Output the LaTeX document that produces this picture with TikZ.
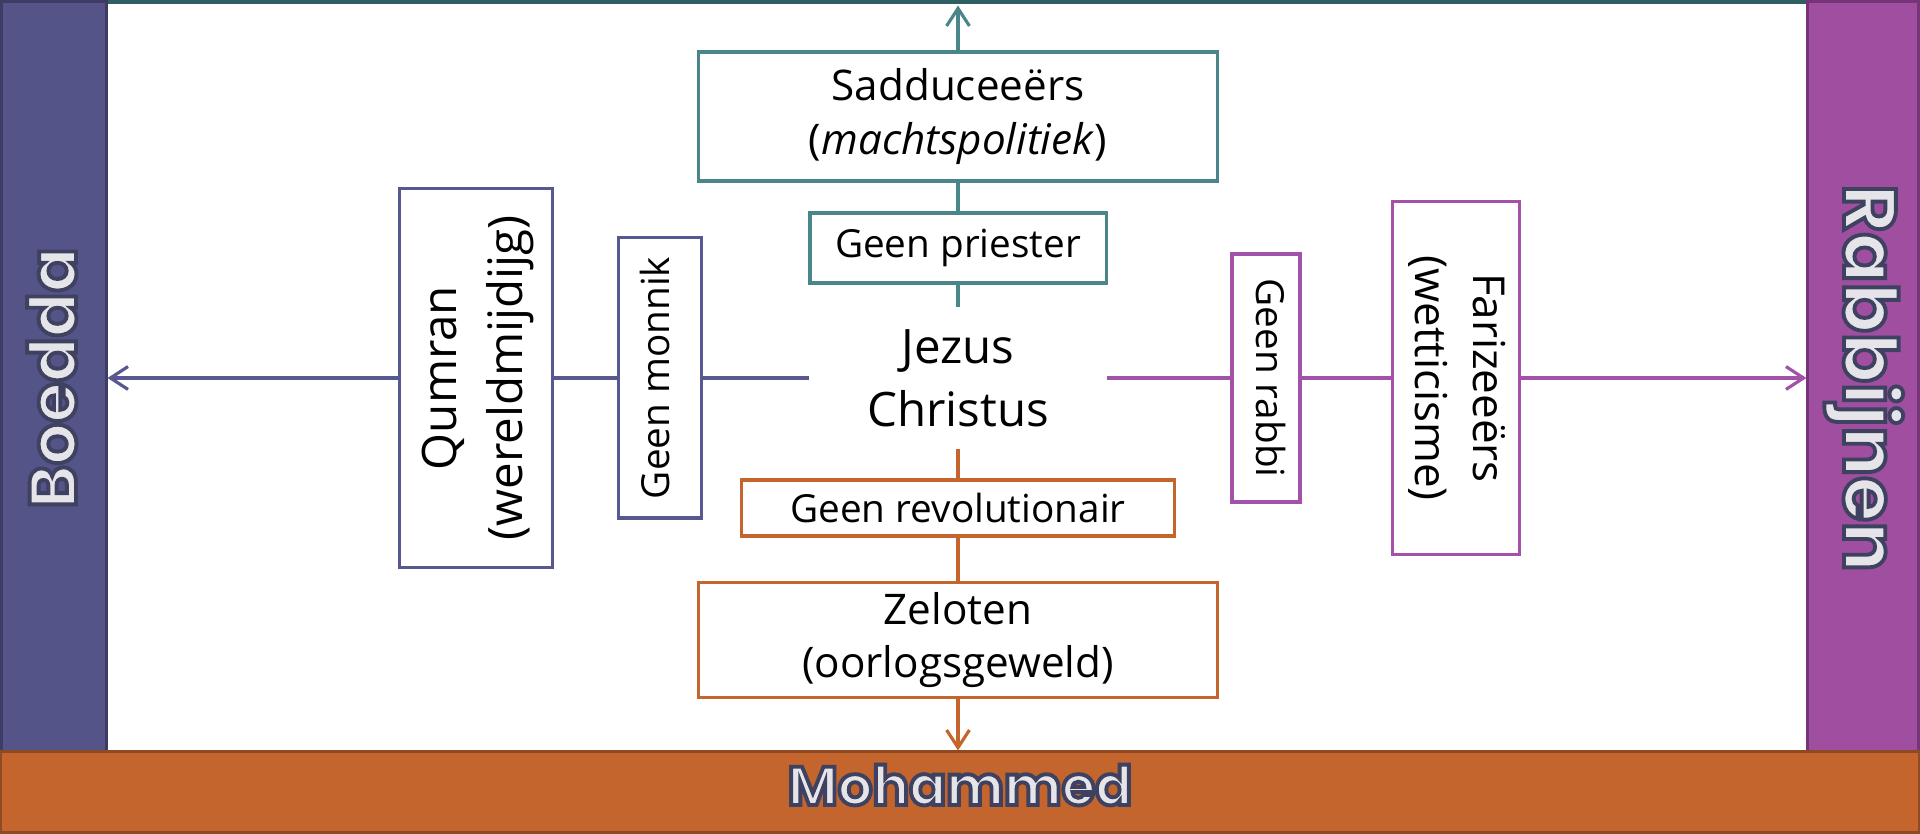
\documentclass[tikz,border=0pt]{standalone}
\usepackage{fontspec}
\usepackage{xcolor}
\usepackage{graphicx}
\usepackage{tikz}
\usetikzlibrary{arrows.meta}

\setmainfont{Open Sans}
\newfontfamily\barfont{Poppins}

\definecolor{tealline}{RGB}{74,133,137}
\definecolor{tealbar}{RGB}{47,94,99}
\definecolor{indigoline}{RGB}{88,88,145}
\definecolor{indigobar}{RGB}{84,84,136}
\definecolor{indigoedge}{RGB}{62,60,100}
\definecolor{plumline}{RGB}{162,82,168}
\definecolor{plumbar}{RGB}{160,79,160}
\definecolor{plumedge}{RGB}{117,53,120}
\definecolor{rustline}{RGB}{196,101,46}
\definecolor{rustedge}{RGB}{142,74,34}
\definecolor{bartext}{RGB}{229,229,233}

% outlined letters: fill in the text colour, stroke in a dark slate
\newcommand{\rimmed}[1]{\special{pdf:literal direct 2 Tr 1.1 w 0.243 0.259 0.376 RG}#1\special{pdf:literal direct 0 Tr}}

\newcommand{\turnup}[1]{\rotatebox{90}{\begin{tabular}{@{}c@{}}#1\end{tabular}}}
\newcommand{\turndown}[1]{\rotatebox{-90}{\begin{tabular}{@{}c@{}}#1\end{tabular}}}

\begin{document}
\begin{tikzpicture}[x=0.01cm, y=-0.01cm,
	sect/.style={draw, line width=0.9pt, fill=white, inner sep=0pt, align=center},
	bar/.style={line width=0.85pt, inner sep=0pt},
	bartxt/.style={text=bartext, font=\barfont},
	link/.style={line width=0.9pt},
	tip/.style={-{Straight Barb[length=5pt,width=6.5pt]}}]

\useasboundingbox (0,0) rectangle (1920,834);

% bars round the edge
\node[bar, fill=tealbar, minimum width=17.01cm, minimum height=0.14cm] (topbar) at (957.5,-3) {};
\node[bar, draw=indigoedge, fill=indigobar, minimum width=1.045cm, minimum height=7.495cm] (boedda) at (53.75,376.25) {};
\node[bar, draw=plumedge, fill=plumbar, minimum width=1.105cm, minimum height=7.495cm] (rabbijnen) at (1863.25,376.25) {};
\node[bar, draw=rustedge, fill=rustline, minimum width=19.17cm, minimum height=0.805cm] (mohammed) at (960,792.25) {};

\node[bartxt, anchor=base, rotate=90, font=\barfont\bfseries\fontsize{18.8}{20}\selectfont] (boeddatxt) at (76,378) {\rimmed{Boedda}};
\node[bartxt, anchor=base, rotate=-90, font=\barfont\bfseries\fontsize{21}{23}\selectfont] (rabbijnentxt) at (1844,378) {\rimmed{Rabbijnen}};
\node[bartxt, anchor=base, font=\barfont\bfseries\fontsize{15.5}{17}\selectfont] (mohammedtxt) at (960,805) {\rimmed{Mohammed}};

% middle
\node[inner sep=0pt, align=center, minimum width=2.96cm, minimum height=1.4cm,
	font=\fontsize{13.5}{17.9}\selectfont] (jezus) at (958,378) {Jezus\\Christus};

% up
\node[sect, draw=tealline, minimum width=2.96cm, minimum height=0.70cm, font=\fontsize{11}{13}\selectfont] (priester) at (958,248) {Geen priester};
\node[sect, draw=tealline, minimum width=5.18cm, minimum height=1.29cm, font=\fontsize{12}{15.1}\selectfont] (sadducee) at (958,116.5) {Sadduceeërs\\(\textit{machtspolitiek})};

% down
\node[sect, draw=rustline, minimum width=4.32cm, minimum height=0.56cm, font=\fontsize{11}{13}\selectfont] (revolutionair) at (958,508) {Geen revolutionair};
\node[sect, draw=rustline, minimum width=5.18cm, minimum height=1.15cm, font=\fontsize{12}{15.1}\selectfont] (zeloten) at (958,640) {Zeloten\\(oorlogsgeweld)};

% left
\node[sect, draw=indigoline, minimum width=0.83cm, minimum height=2.80cm, font=\fontsize{11}{13}\selectfont] (monnik) at (660,378) {\turnup{Geen monnik}};
\node[sect, draw=indigoline, minimum width=1.53cm, minimum height=3.79cm, font=\fontsize{13.5}{18.8}\selectfont] (qumran) at (476,378) {\turnup{Qumran\\(wereldmijdijg)}};

% right
\node[sect, draw=plumline, minimum width=0.68cm, minimum height=2.48cm, font=\fontsize{11}{13}\selectfont] (rabbi) at (1266,378) {\turndown{Geen rabbi}};
\node[sect, draw=plumline, minimum width=1.27cm, minimum height=3.52cm, font=\fontsize{12.5}{16.5}\selectfont] (farizeeers) at (1456,378) {\turndown{Farizeeërs\\(wetticisme)}};

\draw[link, tealline] (jezus.north) -- (priester.south);
\draw[link, tealline] (priester.north) -- (sadducee.south);
\draw[link, tealline, tip] (sadducee.north) -- (sadducee.north |- topbar.south);

\draw[link, rustline] (jezus.south) -- (revolutionair.north);
\draw[link, rustline] (revolutionair.south) -- (zeloten.north);
\draw[link, rustline, tip] (zeloten.south) -- (zeloten.south |- mohammed.north);

\draw[link, indigoline] (jezus.west) -- (monnik.east);
\draw[link, indigoline] (monnik.west) -- (qumran.east);
\draw[link, indigoline, tip] (qumran.west) -- (qumran.west -| boedda.east);

\draw[link, plumline] (jezus.east) -- (rabbi.west);
\draw[link, plumline] (rabbi.east) -- (farizeeers.west);
\draw[link, plumline, tip] (farizeeers.east) -- (farizeeers.east -| rabbijnen.west);

\end{tikzpicture}
\end{document}
